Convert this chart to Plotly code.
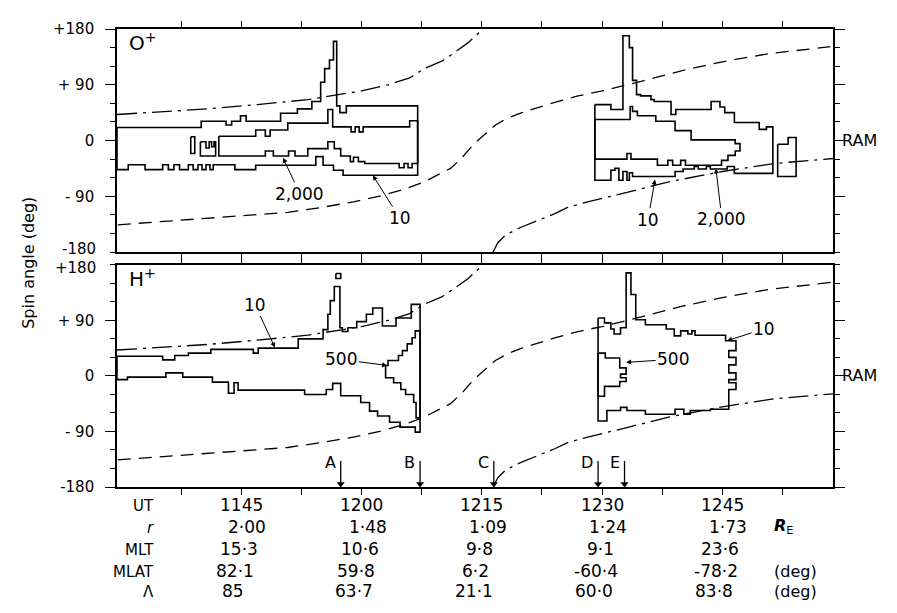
import plotly.graph_objects as go

# ---------------- data (time in minutes after 11:00 UT, angle in deg) ----------------
ut_ticks = [45, 60, 75, 90, 105]
ut_labels = ["1145", "1200", "1215", "1230", "1245"]
r_vals = ["2·00", "1·48", "1·09", "1·24", "1·73"]
mlt_vals = ["15·3", "10·6", "9·8", "9·1", "23·6"]
mlat_vals = ["82·1", "59·8", "6·2", "-60·4", "-78·2"]
lam_vals = ["85", "63·7", "21·1", "60·0", "83·8"]
row_names = ["UT", "<i>r</i>", "MLT", "MLAT", "Λ"]
row_units = ["", "<b><i>R</i></b><sub>E</sub>", "", "(deg)", "(deg)"]

event_labels = ["A", "B", "C", "D", "E"]
event_times = [57.4, 67.3, 76.5, 89.5, 92.8]

# magnetic-field direction (dash-dot) and its perpendicular reference (dashed)
dashdot_t = [29.5, 35, 40.8, 47, 53.3, 57.1, 60, 63.3, 66, 67.8, 70, 71.6, 73.3, 74.9, 75.2,
             None, 76.4, 77, 78, 79.9, 82, 84.1, 85.7, 88.2, 93, 98.2, 105, 111.5, 118.8]
dashdot_a = [42, 46, 51, 58, 66, 74, 80, 90, 101, 116, 128, 142, 158, 177, 180,
             None, -180, -165, -152, -140, -129, -118, -108, -99, -84, -67, -50, -37, -29]
dashed_t = [29.6, 35, 40, 45, 50.8, 55, 59, 62.5, 65, 67.6, 69.5, 71.1, 72.5, 73.5, 74.5,
            75.5, 76.7, 78.2, 80, 82, 84.2, 87, 90, 95, 100, 105, 110.7, 118.8]
dashed_a = [-136, -131, -126, -121, -116, -108, -99, -89, -80, -68, -55, -45, -28, -13, 0,
            12, 25, 36, 45, 53, 62, 72, 80, 96, 113, 127, 140, 152]

# ---- O+ contours: (start time, level) steps ----
o_l10_up = [(29.5, 21), (40.0, 31), (43.1, 25), (43.8, 31), (44.9, 40), (45.6, 31), (49.9, 44),
            (52.0, 51), (53.8, 63), (54.9, 94), (55.4, 116), (56.0, 130), (56.5, 160),
            (56.9, 56), (57.3, 45), (58.1, 56)]
o_l10_lo = [(29.5, -47), (30.9, -39), (33.0, -47), (35.2, -39), (35.9, -47), (36.6, -39),
            (37.3, -47), (38.4, -39), (39.0, -47), (39.6, -39), (40.1, -47), (40.6, -39),
            (41.1, -47), (41.5, -39), (44.2, -47), (46.8, -40), (54.3, -26), (55.2, -40),
            (56.5, -48), (57.7, -56)]
o_l10_end = 67.0
o_l2k_up = [(42.2, 7), (46.8, 17), (48.0, 7), (48.6, 17), (50.8, 28), (55.8, 50), (56.4, 22),
            (58.7, 14), (59.2, 22), (59.7, 14), (60.2, 22), (66.0, 32)]
o_l2k_lo = [(42.2, -25), (48.0, -17), (49.0, -25), (50.9, -17), (51.7, -25), (53.3, -13),
            (55.8, -2), (56.6, -13), (57.4, -25), (58.6, -34), (59.0, -27), (59.6, -34),
            (60.4, -37), (64.7, -44), (65.3, -37), (65.8, -44), (66.3, -37)]
o_l2k_end = 67.0
o_blob1_up = [(38.7, 6)]
o_blob1_lo = [(38.7, -21)]
o_blob1_end = 39.2
o_blob2_up = [(39.9, -2), (40.6, -12), (41.0, -2), (41.3, -10), (41.6, -2)]
o_blob2_lo = [(39.9, -25)]
o_blob2_end = 41.8

o_r10_up = [(89.1, 58), (91.1, 50), (92.6, 169), (93.4, 150), (93.8, 97), (94.3, 74), (94.8, 72),
            (96.1, 66), (96.5, 63), (98.6, 42), (99.2, 50), (103.6, 63), (104.7, 54),
            (105.3, 45), (106.5, 29), (109.6, 18), (110.5, 22)]
o_r10_lo = [(89.1, -64), (91.1, -48), (91.6, -45), (92.1, -64), (92.6, -50), (93.1, -64),
            (93.4, -52), (93.8, -58), (99.1, -50), (100.1, -46), (101.5, -42), (102.0, -46),
            (103.0, -42), (103.5, -46), (105.6, -42), (106.5, -53)]
o_r10_end = 111.3
o_r2k_up = [(89.1, 34), (93.5, 55), (93.8, 47), (94.4, 40), (96.7, 31), (99.1, 16), (101.1, 1),
            (106.6, -5)]
o_r2k_lo = [(89.1, -30), (93.1, -21), (93.6, -30), (96.9, -40), (98.2, -32), (98.8, -40),
            (99.8, -32), (100.4, -40), (104.9, -32), (105.7, -24), (106.6, -17)]
o_r2k_end = 107.2
o_rbox_up = [(111.9, -6), (113.2, 5)]
o_rbox_lo = [(111.9, -58)]
o_rbox_end = 114.2

# ---- H+ contours ----
h_l10_up = [(29.5, 32), (35.2, 26), (36.7, 33), (38.4, 37), (41.2, 43), (46.5, 37), (47.1, 45),
            (52.1, 60), (55.2, 75), (55.8, 100), (56.1, 122), (56.6, 145), (57.3, 78),
            (57.6, 72), (58.3, 78), (59.4, 88), (60.6, 100), (61.4, 110), (62.6, 81),
            (64.3, 94), (66.2, 116)]
h_l10_lo = [(29.5, -6), (30.8, -2), (35.6, 5), (37.7, -2), (41.4, -10), (43.4, -28), (44.1, -11),
            (44.6, -23), (52.9, -30), (55.6, -22), (56.4, -12), (57.4, -32), (59.9, -43),
            (61.0, -57), (62.0, -65), (63.5, -75), (64.8, -83), (66.7, -91)]
h_l10_end = 67.3
h_l500_up = [(63.0, 17), (63.3, 25), (64.6, 33), (65.1, 41), (65.7, 52), (66.3, 62), (66.7, 73)]
h_l500_lo = [(63.0, -3), (64.0, -11), (64.9, -22), (65.5, -30), (66.5, -43), (66.8, -68)]
h_l500_end = 67.3
h_spot_up = [(56.8, 166)]
h_spot_lo = [(56.8, 158)]
h_spot_end = 57.4

h_r10_up = [(89.5, 94), (90.3, 86), (91.1, 76), (91.5, 68), (92.3, 78), (93.0, 167), (93.6, 132),
            (94.2, 91), (95.4, 83), (98.0, 76), (99.0, 65), (99.8, 73), (100.7, 68),
            (101.2, 73), (101.6, 66)]
h_r10_right = [(105.4, 66), (106.7, 57), (105.8, 41), (106.7, 30), (105.8, 18), (106.7, 5),
               (105.8, -6), (106.7, -11), (105.8, -22)]
h_r10_lo = [(89.5, -73), (90.6, -56), (92.3, -51), (93.1, -56), (95.4, -62), (99.1, -54),
            (100.2, -62), (101.0, -56), (103.5, -54)]
h_r10_end = 105.8
h_r500_up = [(89.5, 37), (90.4, 29), (92.2, 13)]
h_r500_right = [(93.0, 13), (92.3, 3), (93.0, -3), (92.2, -9)]
h_r500_lo = [(89.5, -33), (90.3, -17)]
h_r500_end = 92.2


# ---------------- helpers ----------------
def outline(up, lo, t_end, right=None):
    xs, ys = [], []
    up_end = right[0][0] if right else t_end
    for i, (t, v) in enumerate(up):
        t2 = up[i + 1][0] if i + 1 < len(up) else up_end
        xs += [t, t2]
        ys += [v, v]
    if right:
        for j, (xp, a) in enumerate(right):
            a2 = right[j + 1][1] if j + 1 < len(right) else lo[-1][1]
            xs += [xp, xp]
            ys += [a, a2]
    for i in reversed(range(len(lo))):
        t, v = lo[i]
        t2 = lo[i + 1][0] if i + 1 < len(lo) else t_end
        xs += [t2, t]
        ys += [v, v]
    xs.append(xs[0])
    ys.append(ys[0])
    return xs, ys


fig = go.Figure()
LW = 1.6


def add_line(xs, ys, xa, ya, dash="solid", width=LW):
    fig.add_trace(go.Scatter(x=xs, y=ys, mode="lines", xaxis=xa, yaxis=ya,
                             line=dict(color="black", width=width, dash=dash),
                             hoverinfo="skip", showlegend=False, connectgaps=False))


for xa, ya in (("x2", "y2"), ("x", "y")):
    add_line(dashdot_t, dashdot_a, xa, ya, dash="20px,6px,3px,6px", width=1.3)
    add_line(dashed_t, dashed_a, xa, ya, dash="13px,8px", width=1.3)

for up, lo, end in ((o_l10_up, o_l10_lo, o_l10_end), (o_l2k_up, o_l2k_lo, o_l2k_end),
                    (o_blob1_up, o_blob1_lo, o_blob1_end), (o_blob2_up, o_blob2_lo, o_blob2_end),
                    (o_r10_up, o_r10_lo, o_r10_end), (o_r2k_up, o_r2k_lo, o_r2k_end),
                    (o_rbox_up, o_rbox_lo, o_rbox_end)):
    xs, ys = outline(up, lo, end)
    add_line(xs, ys, "x2", "y2")

for up, lo, end, right in ((h_l10_up, h_l10_lo, h_l10_end, None),
                           (h_l500_up, h_l500_lo, h_l500_end, None),
                           (h_spot_up, h_spot_lo, h_spot_end, None),
                           (h_r10_up, h_r10_lo, h_r10_end, h_r10_right),
                           (h_r500_up, h_r500_lo, h_r500_end, h_r500_right)):
    xs, ys = outline(up, lo, end, right)
    add_line(xs, ys, "x", "y")

# event markers A-E: short vertical arrows onto the bottom axis
ev_x, ev_y = [], []
for t in event_times:
    ev_x += [t, t, None]
    ev_y += [-138, -176, None]
fig.add_trace(go.Scatter(x=ev_x, y=ev_y, mode="lines", xaxis="x", yaxis="y",
                         line=dict(color="black", width=1.3), hoverinfo="skip",
                         showlegend=False))
fig.add_trace(go.Scatter(x=event_times, y=[-175] * len(event_times), mode="markers",
                         xaxis="x", yaxis="y", marker=dict(symbol="triangle-down", size=7,
                                                           color="black"),
                         hoverinfo="skip", showlegend=False, cliponaxis=False))

# ---------------- layout ----------------
FONT = "DejaVu Sans, Verdana, sans-serif"
xcommon = dict(range=[29.5, 118.8], tickvals=[37.5 + 7.5 * k for k in range(11)],
               ticks="outside", ticklen=6, tickwidth=1.3, tickcolor="black",
               showticklabels=False, showline=True, linecolor="black", linewidth=1.6,
               mirror="ticks", showgrid=False, zeroline=False)
ycommon = dict(range=[-180, 180],
               ticks="outside", ticklen=10, tickwidth=1.3, tickcolor="black",
               showline=True, linecolor="black", linewidth=1.6, mirror="ticks",
               showgrid=False, zeroline=False, ticklabelstandoff=8,
               tickfont=dict(family=FONT, size=15, color="black"))
minor_common = dict(ticks="outside", ticklen=5, tickwidth=1.2, tickcolor="black")

fig.update_layout(
    width=897, height=613, paper_bgcolor="white", plot_bgcolor="white",
    margin=dict(l=109, r=72, t=13, b=134),
    font=dict(family=FONT, size=16, color="black"),
    xaxis=dict(xcommon, anchor="y", domain=[0, 1]),
    xaxis2=dict(xcommon, anchor="y2", domain=[0, 1], matches="x"),
    yaxis=dict(ycommon, anchor="x", domain=[0, 0.485],
               tickvals=[-180, -90, 0, 90], ticktext=["-180", "- 90", "0", "+ 90"],
               minor=dict(minor_common,
                          tickvals=[-150, -120, -60, -30, 30, 60, 120, 150, 180])),
    yaxis2=dict(ycommon, anchor="x2", domain=[0.513, 1],
                tickvals=[-90, 0, 90, 180], ticktext=["- 90", "0", "+ 90", "+180"],
                minor=dict(minor_common,
                           tickvals=[-180, -150, -120, -60, -30, 30, 60, 120, 150])),
)

ann = []
# edge tick labels nudged apart where the two panels meet
ann.append(dict(text="-180", xref="paper", yref="y2", x=0, y=-180, xanchor="right",
                xshift=-19, yshift=3, showarrow=False, font=dict(size=15)))
ann.append(dict(text="+180", xref="paper", yref="y", x=0, y=180, xanchor="right",
                xshift=-19, yshift=-3, showarrow=False, font=dict(size=15)))
# panel labels
ann.append(dict(text="O<sup>+</sup>", xref="paper", yref="paper", x=0.014, y=1.004,
                xanchor="left", yanchor="top", showarrow=False, font=dict(size=20)))
ann.append(dict(text="H<sup>+</sup>", xref="paper", yref="paper", x=0.014, y=0.49,
                xanchor="left", yanchor="top", showarrow=False, font=dict(size=20)))
for yr in ("y2", "y"):
    ann.append(dict(text="RAM", xref="paper", yref=yr, x=1.01, y=0, xanchor="left",
                    showarrow=False, font=dict(size=16)))
# y title
ann.append(dict(text="Spin angle (deg)", xref="paper", yref="paper", x=-0.124, y=0.49,
                xanchor="center", yanchor="middle", textangle=-90, showarrow=False,
                font=dict(size=16)))

# contour labels with arrows: (text, axis, x, y, ax, ay)
labels = [("2,000", "2", 50.2, -28, 17, 36), ("10", "2", 61.4, -56, 27, 43),
          ("10", "2", 96.6, -63, -7, 40), ("2,000", "2", 104.2, -45, 6, 51),
          ("10", "", 49.2, 46, -20, -43), ("500", "", 63.2, 17, -46, -6),
          ("10", "", 105.6, 57, 37, -12), ("500", "", 93.0, 22, 47, -3)]
for txt, k, x, y, ax, ay in labels:
    ann.append(dict(text=txt, xref="x" + k, yref="y" + k, x=x, y=y, ax=ax, ay=ay,
                    showarrow=True, arrowhead=2, arrowsize=1, arrowwidth=1, arrowcolor="black",
                    font=dict(size=17)))

# event letters
for lab, t in zip(event_labels, event_times):
    ann.append(dict(text=lab, xref="x", yref="y", x=t, y=-140, xanchor="right", xshift=-3,
                    showarrow=False, font=dict(size=16)))

# bottom table
rows = [ut_labels, r_vals, mlt_vals, mlat_vals, lam_vals]
row_y = [-0.066, -0.113, -0.162, -0.209, -0.254]
row_shift = [0, 6, -2, -6, -8]
for vals, name, unit, yy, sh in zip(rows, row_names, row_units, row_y, row_shift):
    ann.append(dict(text=name, xref="paper", yref="paper", x=0.055, y=yy, xanchor="right",
                    showarrow=False, font=dict(size=15)))
    for t, v in zip(ut_ticks, vals):
        ann.append(dict(text=v, xref="x", yref="paper", x=t, y=yy, xshift=sh,
                        showarrow=False, font=dict(size=17)))
    if unit:
        ann.append(dict(text=unit, xref="paper", yref="paper", x=0.915,
                        y=yy, xanchor="left", showarrow=False, font=dict(size=16)))

fig.update_layout(annotations=ann)
fig.write_html("out.html")
